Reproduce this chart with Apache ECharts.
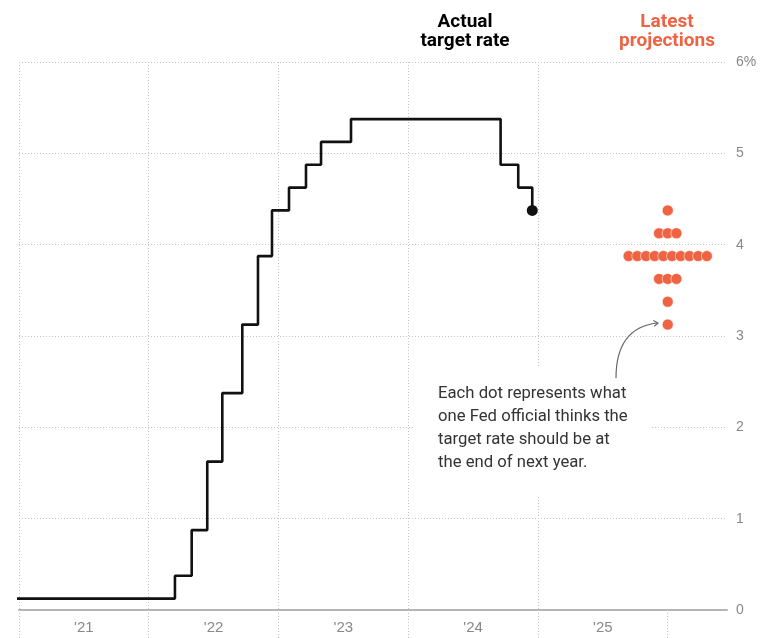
<!DOCTYPE html>
<html>
<head>
<meta charset="utf-8">
<script src="https://cdn.jsdelivr.net/npm/echarts@6/dist/echarts.min.js"></script>
<style>
  html, body { margin: 0; padding: 0; background: #fff; }
  #chart { width: 760px; height: 638px; }
</style>
</head>
<body>
<div id="chart"></div>
<script>
// ---- Data ----
const yearTicks = [2021, 2022, 2023, 2024, 2025, 2026];
const yearLabels = ["'21", "'22", "'23", "'24", "'25"];
const yearLabelPositions = [2021.5, 2022.5, 2023.5, 2024.5, 2025.5];

// Fed funds target rate (midpoint of range) and the date each level took effect
const rateDates  = [2020.96, 2022.202, 2022.331, 2022.451, 2022.567, 2022.721, 2022.842, 2022.950,
                    2023.081, 2023.212, 2023.328, 2023.559, 2024.712, 2024.848, 2024.956];
const rateValues = [0.125, 0.375, 0.875, 1.625, 2.375, 3.125, 3.875, 4.375,
                    4.625, 4.875, 5.125, 5.375, 4.875, 4.625, 4.375];

// Projections for the end of next year (dot plot)
const projYear   = 2026;
const projValues = [4.375, 4.125, 3.875, 3.625, 3.375, 3.125];
const projCounts = [1, 3, 10, 3, 1, 1];

// ---- Styles ----
const ORANGE = '#ef6343';
const GRID_COLOR = '#c4c4c4';
const DOT_STEP = 8.7;

const lineData = rateDates.map((d, i) => [d, rateValues[i]]);
const lastPoint = lineData[lineData.length - 1];

const projData = [];
projValues.forEach((v, r) => {
  const n = projCounts[r];
  for (let i = 0; i < n; i++) {
    projData.push({ value: [projYear, v], symbolOffset: [(i - (n - 1) / 2) * DOT_STEP, 0] });
  }
});

const chart = echarts.init(document.getElementById('chart'), null, { renderer: 'canvas' });

chart.setOption({
  animation: false,
  backgroundColor: '#fff',
  grid: { left: 19, right: 33, top: 62, bottom: 28, containLabel: false },
  xAxis: {
    type: 'value',
    min: 2021,
    max: 2026.457,
    axisLine: { show: true, lineStyle: { color: '#b5b5b5', width: 2 } },
    axisTick: {
      show: true, customValues: yearTicks, length: 28, inside: false,
      lineStyle: { color: GRID_COLOR, width: 1, type: [1, 2] }
    },
    axisLabel: {
      customValues: yearLabelPositions,
      formatter: (v) => {
        const idx = yearLabelPositions.indexOf(v);
        return idx >= 0 ? yearLabels[idx] : '';
      },
      color: '#888', fontFamily: 'Liberation Sans', fontSize: 15, margin: 10
    },
    splitLine: { show: true, showMaxLine: false, lineStyle: { color: GRID_COLOR, width: 1, type: [1, 2] } }
  },
  yAxis: {
    type: 'value',
    position: 'right',
    min: 0, max: 6, interval: 1,
    axisLine: { show: false },
    axisTick: { show: false },
    axisLabel: {
      formatter: (v) => v === 6 ? '6%' : String(v),
      color: '#888', fontFamily: 'Liberation Sans', fontSize: 14, margin: 9, align: 'left'
    },
    splitLine: { show: true, lineStyle: { color: GRID_COLOR, width: 1, type: [1, 2] } }
  },
  series: [
    {
      type: 'line',
      step: 'end',
      data: lineData,
      symbol: 'none',
      clip: false,
      lineStyle: { color: '#111', width: 2.6 },
      z: 5
    },
    {
      type: 'scatter',
      data: [lastPoint],
      symbolSize: 11,
      itemStyle: { color: '#111', opacity: 1 },
      z: 6
    },
    {
      type: 'scatter',
      data: projData,
      symbolSize: 11,
      itemStyle: { color: ORANGE, opacity: 1, borderColor: 'rgba(255,255,255,0.7)', borderWidth: 0.8 },
      z: 6
    }
  ],
  graphic: [
    {
      type: 'text', x: 465, y: 13, z: 50,
      style: {
        text: 'Actual\ntarget rate', fill: '#000', font: 'bold 19px Roboto',
        lineHeight: 19, textAlign: 'center', textVerticalAlign: 'top'
      }
    },
    {
      type: 'text', x: 667, y: 13, z: 50,
      style: {
        text: 'Latest\nprojections', fill: ORANGE, font: 'bold 19px Roboto',
        lineHeight: 19, textAlign: 'center', textVerticalAlign: 'top'
      }
    },
    {
      type: 'rect', z: 40,
      shape: { x: 415, y: 368, width: 235, height: 129 },
      style: { fill: '#fff' }
    },
    {
      type: 'text', x: 438, y: 382, z: 50,
      style: {
        text: 'Each dot represents what\none Fed official thinks the\ntarget rate should be at\nthe end of next year.',
        fill: '#333', font: '16.7px Roboto', lineHeight: 23,
        textAlign: 'left', textVerticalAlign: 'top'
      }
    },
    {
      type: 'bezierCurve', z: 50,
      shape: { x1: 616, y1: 378, cpx1: 616, cpy1: 328, x2: 657, y2: 323 },
      style: { stroke: '#666', lineWidth: 1.2, fill: null }
    },
    {
      type: 'polyline', z: 50,
      shape: { points: [[653.4, 320.4], [658, 323], [654.2, 326.4]] },
      style: { stroke: '#666', lineWidth: 1.2, fill: null }
    }
  ]
});
</script>
</body>
</html>
